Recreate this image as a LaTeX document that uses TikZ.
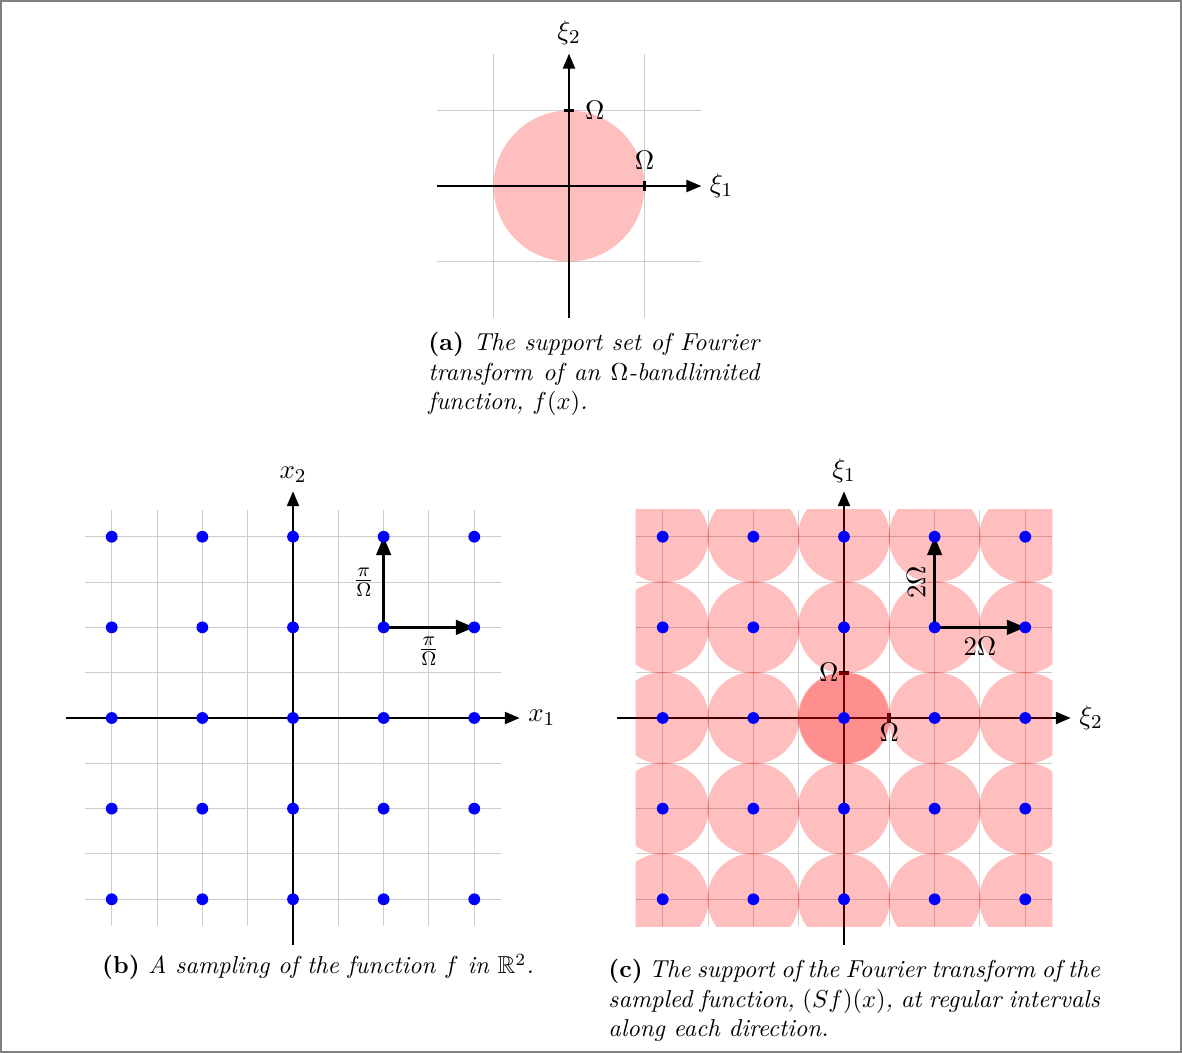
\documentclass[tikz,border=0pt]{standalone}
\usepackage{amsmath}
\usepackage{amssymb}
\usepackage{tikz}
\usetikzlibrary{arrows.meta,positioning}

\begin{document}
\begin{tikzpicture}[
    x=0.01434cm, y=-0.01434cm,
    gridline/.style={draw=gray!40, line width=0.4pt},
    axis/.style={-{Triangle[length=6pt,width=5pt]}, line width=0.5pt},
    disc/.style={fill=red, fill opacity=0.25},
    sample/.style={fill=blue},
    tickmark/.style={line width=1.5pt},
    vec/.style={-{Triangle[length=7.5pt,width=6pt]}, line width=1pt},
    lbl/.style={font=\fontsize{10.95}{13.6}\selectfont},
    note/.style={text width=#1, align=justify, inner sep=0pt, font=\itshape}
]
\useasboundingbox (0,0) rectangle (1182,1053);
\draw[gray, line width=0.6pt] (1,1) rectangle (1181,1052);

% (a) support of the transform
\begin{scope}[shift={(569,186)}, x=1.083cm, y=1.083cm]
  \draw[gridline, step=1] (-1.75,-1.75) grid (1.75,1.75);
  \fill[disc] (0,0) circle (1);
  \draw[axis] (-1.75,0) -- (1.75,0) node[lbl, right] (xia) {$\xi_1$};
  \draw[axis] (0,-1.75) -- (0,1.75) node[lbl, above] (xib) {$\xi_2$};
  \draw[tickmark] (1,-0.065) -- (1,0.065);
  \draw[tickmark] (-0.07,1) -- (0.07,1);
  \node[lbl, right] (oma) at (0.1,1) {$\Omega$};
  \node[lbl, above] (omb) at (1,0.1) {$\Omega$};
\end{scope}
\node[note=135pt, anchor=north west] (capa) at (428,332)
  {\textup{\textbf{(a)}} The support set of Fourier transform of an $\Omega$-bandlimited function, $f(x)$.};

% (b) sampling lattice
\begin{scope}[shift={(293,718)}, x=0.65cm, y=0.65cm]
  \draw[gridline, step=1] (-4.6,-4.6) grid (4.6,4.6);
  \draw[axis] (-5,0) -- (5,0) node[lbl, right] (xone) {$x_1$};
  \draw[axis] (0,-5) -- (0,5) node[lbl, above] (xtwo) {$x_2$};
  \coordinate (pb) at (2,2);
  \coordinate (pbx) at (4,2);
  \coordinate (pby) at (2,4);
  \draw[vec] (pb) -- (pbx) node[lbl, midway, below] (lbx) {$\frac{\pi}{\Omega}$};
  \draw[vec] (pb) -- (pby) node[lbl, midway, left] (lby) {$\frac{\pi}{\Omega}$};
  \foreach \i in {-2,...,2}
    \foreach \j in {-2,...,2}
      \fill[sample] (2*\i,2*\j) circle (0.13);
\end{scope}
\node[font=\itshape] (capb) at (318,967)
  {\textup{\textbf{(b)}} A sampling of the function $f$ in $\mathbb{R}^2$.};

% (c) periodised support
\begin{scope}[shift={(844,718)}, x=0.65cm, y=0.65cm]
  \draw[gridline, step=1] (-4.6,-4.6) grid (4.6,4.6);
  \draw[axis] (-5,0) -- (5,0) node[lbl, right] (xitwo) {$\xi_2$};
  \draw[axis] (0,-5) -- (0,5) node[lbl, above] (xione) {$\xi_1$};
  \draw[tickmark] (1,-0.1) -- (1,0.1);
  \draw[tickmark] (-0.1,1) -- (0.1,1);
  \begin{scope}
    \clip (-4.6,-4.6) rectangle (4.6,4.6);
    \foreach \i in {-2,...,2}
      \foreach \j in {-2,...,2}
        \fill[disc] (2*\i,2*\j) circle (1.015);
    \fill[disc] (0,0) circle (1);
  \end{scope}
  \node[lbl, left, inner sep=2pt] (omc) at (0,1) {$\Omega$};
  \node[lbl, below, inner sep=2pt] (omd) at (1,0) {$\Omega$};
  \coordinate (pc) at (2,2);
  \coordinate (pcx) at (4,2);
  \coordinate (pcy) at (2,4);
  \draw[vec] (pc) -- (pcx) node[lbl, midway, below] (lcx) {$2\Omega$};
  \draw[vec] (pc) -- (pcy) node[lbl, midway, above, rotate=90] (lcy) {$2\Omega$};
  \foreach \i in {-2,...,2}
    \foreach \j in {-2,...,2}
      \fill[sample] (2*\i,2*\j) circle (0.13);
\end{scope}
\node[note=200.5pt, anchor=north west] (capc) at (608,959)
  {\textup{\textbf{(c)}} The support of the Fourier transform of the sampled function, $(Sf)(x)$, at regular intervals along each direction.};
\end{tikzpicture}
\end{document}
